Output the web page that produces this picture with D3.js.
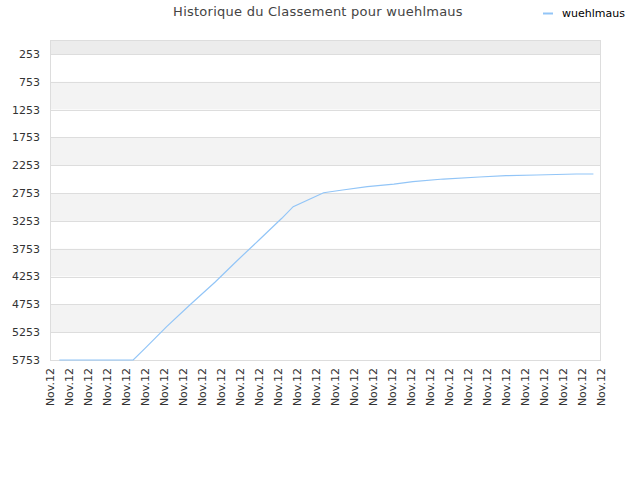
<!DOCTYPE html>
<html>
<head>
<meta charset="utf-8">
<script src="https://cdn.jsdelivr.net/npm/d3@7"></script>
<style>
  body { margin: 0; background: #fff; }
  text { font-family: "DejaVu Sans", sans-serif; }
</style>
</head>
<body>
<div id="chart"></div>
<script>
var margin = { top: 40, right: 40, bottom: 120, left: 50 },
    width = 640 - margin.left - margin.right,
    height = 480 - margin.top - margin.bottom;

// x labels (all the same date in the source)
var xLabels = ["Nov.12", "Nov.12", "Nov.12", "Nov.12", "Nov.12", "Nov.12", "Nov.12", "Nov.12", "Nov.12", "Nov.12",
    "Nov.12", "Nov.12", "Nov.12", "Nov.12", "Nov.12", "Nov.12", "Nov.12", "Nov.12", "Nov.12", "Nov.12",
    "Nov.12", "Nov.12", "Nov.12", "Nov.12", "Nov.12", "Nov.12", "Nov.12", "Nov.12", "Nov.12", "Nov.12"];
var yTicks = [253, 753, 1253, 1753, 2253, 2753, 3253, 3753, 4253, 4753, 5253, 5753];

// position along the label axis and rank
var pos = [0.49, 4.38, 5.0, 6.14, 7.4, 8.68, 9.79, 11.0, 12.2, 12.8, 14.4, 15.4, 16.7, 18.1, 19.1, 20.7, 22.6, 24.0, 25.6, 27.7, 28.6];
var rank = [5753, 5753, 5543, 5154, 4752, 4356, 3986, 3596, 3206, 2997, 2746, 2697, 2638, 2590, 2548, 2500, 2464, 2440, 2428, 2410, 2410];

var svg = d3.select("#chart")
    .append("svg")
    .attr("width", 640)
    .attr("height", 480)
    .append("g")
    .attr("transform", "translate(" + margin.left + "," + margin.top + ")");

var x = d3.scaleLinear()
    .domain([0, xLabels.length - 1])
    .range([0, width + 1]);

var y = d3.scaleLinear()
    .domain([1, 5753])
    .range([0, height]);

// background bands
var bands = [[1, 253]];
for (let i = 0; i < yTicks.length - 1; i++) {
    bands.push([yTicks[i], yTicks[i + 1]]);
}
svg.selectAll(".band")
    .data(bands)
    .enter().append("rect")
    .attr("x", 0)
    .attr("width", width)
    .attr("y", function (d) { return y(d[0]); })
    .attr("height", function (d) { return y(d[1]) - y(d[0]); })
    .attr("fill", function (d, i) { return i == 0 ? "#ececec" : (i % 2 == 0 ? "#f3f3f3" : "#ffffff"); });

// grid lines
svg.selectAll(".grid")
    .data(yTicks)
    .enter().append("line")
    .attr("x1", 0)
    .attr("x2", width)
    .attr("y1", function (d) { return Math.round(y(d)) + 0.5; })
    .attr("y2", function (d) { return Math.round(y(d)) + 0.5; })
    .attr("stroke", "#dddddd");

// frame
svg.append("rect")
    .attr("x", 0.5)
    .attr("y", 0.5)
    .attr("width", width)
    .attr("height", height)
    .attr("fill", "none")
    .attr("stroke", "#dddddd");

// y labels
svg.selectAll(".ylab")
    .data(yTicks)
    .enter().append("text")
    .attr("x", -10)
    .attr("y", function (d) { return y(d); })
    .attr("dy", "0.35em")
    .attr("text-anchor", "end")
    .attr("font-size", 11)
    .attr("fill", "#333")
    .text(function (d) { return d; });

// x labels
svg.selectAll(".xlab")
    .data(xLabels)
    .enter().append("text")
    .attr("transform", function (d, i) { return "translate(" + x(i) + "," + (height + 8) + ") rotate(-90)"; })
    .attr("dy", "0.35em")
    .attr("text-anchor", "end")
    .attr("font-size", 11)
    .attr("fill", "#333")
    .text(function (d) { return d; });

// the line
var pts = pos.map(function (p, i) { return [p, rank[i]]; });
svg.append("path")
    .datum(pts)
    .attr("fill", "none")
    .attr("stroke", "#92c5f7")
    .attr("stroke-width", 1.2)
    .attr("d", d3.line()
        .x(function (d) { return x(d[0]); })
        .y(function (d) { return y(d[1]); })
    );

// title
d3.select("svg").append("text")
    .attr("x", 318)
    .attr("y", 16)
    .attr("text-anchor", "middle")
    .attr("font-size", 13)
    .attr("letter-spacing", 0.25)
    .attr("fill", "#444")
    .text("Historique du Classement pour wuehlmaus");

// legend
d3.select("svg").append("line")
    .attr("x1", 543)
    .attr("x2", 553)
    .attr("y1", 13.5)
    .attr("y2", 13.5)
    .attr("stroke", "#92c5f7")
    .attr("stroke-width", 2);
d3.select("svg").append("text")
    .attr("x", 562)
    .attr("y", 13)
    .attr("dy", "0.35em")
    .attr("font-size", 11)
    .attr("fill", "#000")
    .text("wuehlmaus");
</script>
</body>
</html>
